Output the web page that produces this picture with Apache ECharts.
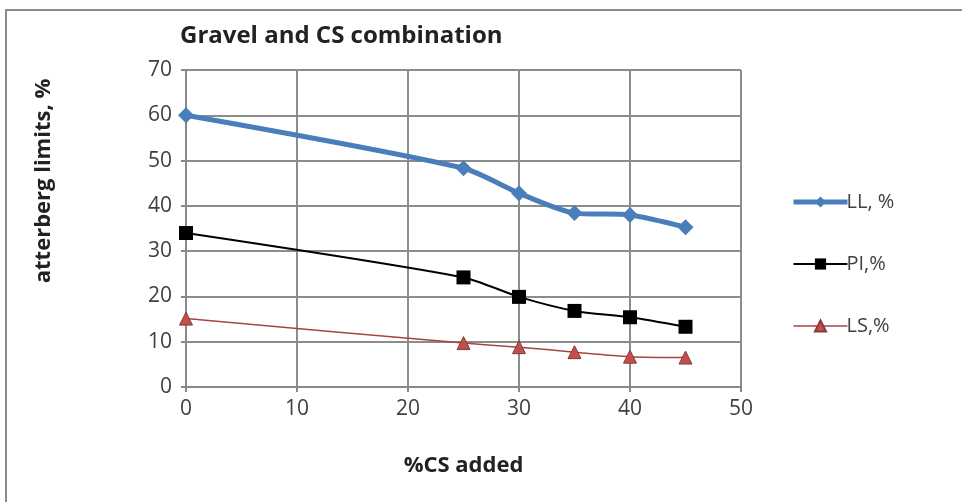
<!DOCTYPE html>
<html><head><meta charset="utf-8">
<script src="https://cdn.jsdelivr.net/npm/echarts@6/dist/echarts.min.js"></script>
<style>html,body{margin:0;padding:0;background:#fff}#c{width:962px;height:502px}</style>
</head><body><div id="c"></div>
<script>
const xValues = [0, 25, 30, 35, 40, 45];
const llValues = [60, 48.3, 42.8, 38.4, 38.0, 35.3];
const piValues = [34.0, 24.2, 19.9, 16.8, 15.4, 13.3];
const lsValues = [15.1, 9.7, 8.8, 7.7, 6.7, 6.5];
const seriesNames = ['LL, %', 'PI,%', 'LS,%'];
const titleText = 'Gravel and CS combination';
const xName = '%CS added';
const yName = 'atterberg limits, %';

const pair = v => xValues.map((x, i) => [x, v[i]]);
const font = '"Open Sans", sans-serif';
const chart = echarts.init(document.getElementById('c'));
chart.setOption({
  animation: false,
  backgroundColor: '#fff',
  graphic: [
    {type: 'rect', shape: {x: 6, y: 10, width: 1000, height: 600}, style: {fill: 'none', stroke: '#8a8a8a', lineWidth: 2}, z: -1},
    {type: 'text', x: 44, y: 181, rotation: Math.PI / 2,
     style: {text: yName, font: 'bold 22px "Open Sans", sans-serif', fill: '#222', align: 'center', verticalAlign: 'middle'}}
  ],
  title: {text: titleText, left: 175, top: 19, textStyle: {fontFamily: font, fontSize: 24, fontWeight: 'bold', color: '#222'}},
  grid: {left: 186, right: 221, top: 70, bottom: 115},
  legend: {
    orient: 'vertical', left: 786, top: 187, itemGap: 42, itemWidth: 54, itemHeight: 14,
    textStyle: {fontFamily: font, fontSize: 20, color: '#404040', padding: [0, 0, 0, -6]},
    data: [
      {name: seriesNames[0], lineStyle: {width: 5}},
      {name: seriesNames[1], lineStyle: {width: 2}},
      {name: seriesNames[2], lineStyle: {width: 1.5}}
    ]
  },
  xAxis: {
    type: 'value', min: 0, max: 50, interval: 10,
    name: xName, nameLocation: 'middle', nameGap: 68,
    nameTextStyle: {fontFamily: font, fontSize: 22, fontWeight: 'bold', color: '#222'},
    axisLine: {show: true, lineStyle: {color: '#888', width: 2}},
    axisTick: {show: true, length: 5, lineStyle: {color: '#888', width: 2}},
    axisLabel: {fontFamily: font, fontSize: 21, color: '#404040', margin: 12},
    splitLine: {show: true, lineStyle: {color: '#8c8c8c', width: 2}}
  },
  yAxis: {
    type: 'value', min: 0, max: 70, interval: 10,
    axisLine: {show: true, lineStyle: {color: '#888', width: 2}},
    axisTick: {show: true, length: 5, lineStyle: {color: '#888', width: 2}},
    axisLabel: {fontFamily: font, fontSize: 21, color: '#404040', margin: 14},
    splitLine: {show: true, lineStyle: {color: '#8c8c8c', width: 2}}
  },
  series: [
    {name: seriesNames[0], type: 'line', data: pair(llValues), smooth: 0.25,
     symbol: 'diamond', symbolSize: 16,
     lineStyle: {color: '#4a7ebb', width: 5}, itemStyle: {color: '#4a7ebb'}},
    {name: seriesNames[1], type: 'line', data: pair(piValues), smooth: 0.25,
     symbol: 'rect', symbolSize: 14,
     lineStyle: {color: '#000', width: 2}, itemStyle: {color: '#000'}},
    {name: seriesNames[2], type: 'line', data: pair(lsValues), smooth: 0.25,
     symbol: 'triangle', symbolSize: 13,
     lineStyle: {color: '#a54543', width: 1.5}, itemStyle: {color: '#c0504d', borderColor: '#8c3836', borderWidth: 1}}
  ]
});
</script></body></html>
